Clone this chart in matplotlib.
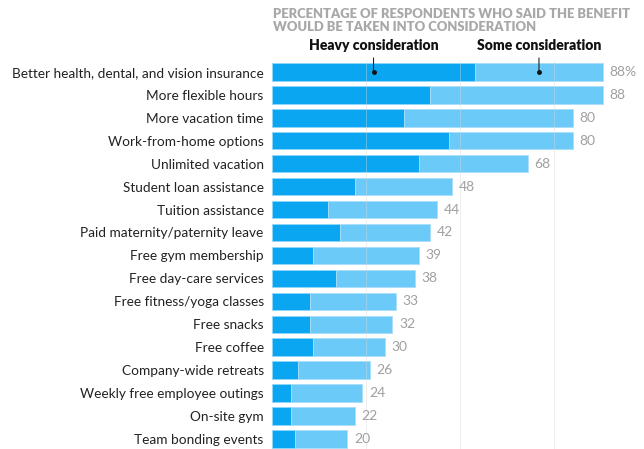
import numpy as np
import matplotlib
matplotlib.use("Agg")
import matplotlib.pyplot as plt

plt.rcParams['font.family'] = ['Lato', 'DejaVu Sans']

benefits = ["Better health, dental, and vision insurance", "More flexible hours",
            "More vacation time", "Work-from-home options", "Unlimited vacation",
            "Student loan assistance", "Tuition assistance",
            "Paid maternity/paternity leave", "Free gym membership",
            "Free day-care services", "Free fitness/yoga classes", "Free snacks",
            "Free coffee", "Company-wide retreats", "Weekly free employee outings",
            "On-site gym", "Team bonding events"]
total = [88, 88, 80, 80, 68, 48, 44, 42, 39, 38, 33, 32, 30, 26, 24, 22, 20]
heavy = [54, 42, 35, 47, 39, 22, 15, 18, 11, 17, 10, 10, 11, 7, 5, 5, 6]
some = [t - h for t, h in zip(total, heavy)]

dark = '#0aa6f2'
light = '#6ccaf8'

fig = plt.figure(figsize=(6.44, 4.49), dpi=100)
ax = fig.add_axes([272/644, 0, 368/644, 1 - 60/449])

y = np.arange(len(benefits))
ax.barh(y, heavy, height=0.76, color=dark, edgecolor='#8fd6fa', linewidth=0.6, zorder=2)
ax.barh(y, some, left=heavy, height=0.76, color=light, edgecolor='#a9defb', linewidth=0.6, zorder=2)

for gx in [25, 50, 75]:
    ax.axvline(gx, color='#d8d8d8', lw=0.7, alpha=0.4, zorder=3)

for i, t in enumerate(total):
    lab = f"{t}%" if i == 0 else str(t)
    ax.text(t + 1.8, i, lab, va='center', ha='left', fontsize=10, color='#a0a0a0')

ax.set_xlim(0, 368/3.76)
ax.set_ylim(16.44, -0.52)
ax.set_yticks(y)
ax.set_yticklabels(benefits, fontsize=9.8, color='#222222')
ax.tick_params(axis='y', length=0, pad=6)
ax.set_xticks([])
for s in ax.spines.values():
    s.set_visible(False)

# header and legend callouts
fig.text(273/644, 1 - 8/449, "PERCENTAGE OF RESPONDENTS WHO SAID THE BENEFIT\nWOULD BE TAKEN INTO CONSIDERATION",
         ha='left', va='top', fontsize=9.4, fontweight='heavy', color='#a8a8a8', linespacing=1.1)

for xv, txt in [(heavy[0] / 2, "Heavy consideration"), (heavy[0] + some[0] / 2, "Some consideration")]:
    ax.annotate(txt, xy=(xv, 0), xytext=(xv, -0.85), ha='center', va='bottom',
                fontsize=10, fontweight='heavy', color='#111111',
                arrowprops=dict(arrowstyle='-', color='#222222', lw=0.8, shrinkA=2, shrinkB=0),
                annotation_clip=False)
    ax.plot(xv, 0, 'o', ms=2.5, color='#111111', zorder=5)

fig.savefig("out.png", dpi=100)
